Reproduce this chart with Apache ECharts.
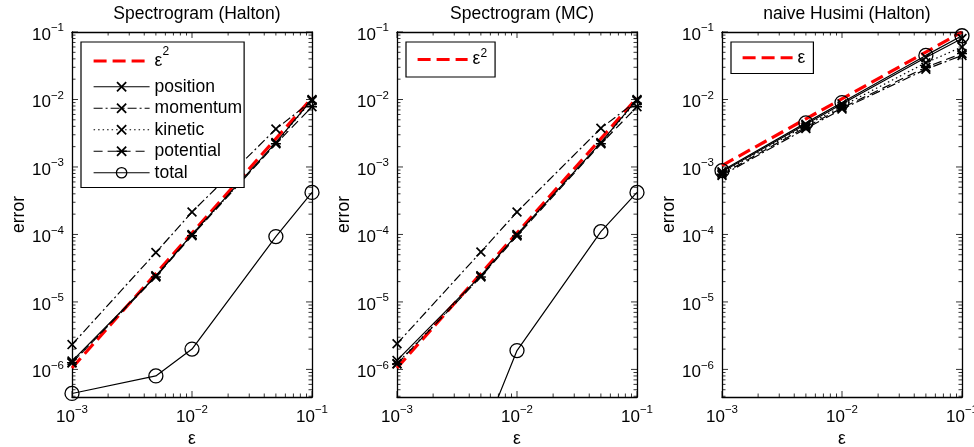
<!DOCTYPE html>
<html><head><meta charset="utf-8">
<script src="https://cdn.jsdelivr.net/npm/echarts@6/dist/echarts.min.js"></script>
<style>html,body{margin:0;padding:0;background:#fff}#c{width:974px;height:447px}</style>
</head><body><div id="c"></div>
<script>
// ---- data ----
const epsilon = [1e-3, 5e-3, 1e-2, 5e-2, 1e-1];
const refEps = [1e-3, 1e-1];
const titles = ['Spectrogram (Halton)', 'Spectrogram (MC)', 'naive Husimi (Halton)'];

// Spectrogram (Halton)
const halton_ref = [1.05e-6, 1.05e-2];
const halton_position = [1.33e-6, 2.4e-5, 1.0e-4, 2.3e-3, 1.0e-2];
const halton_momentum = [2.33e-6, 5.4e-5, 2.15e-4, 3.65e-3, 9.6e-3];
const halton_kinetic = [1.25e-6, 2.45e-5, 9.8e-5, 2.25e-3, 9.8e-3];
const halton_potential = [1.25e-6, 2.35e-5, 9.6e-5, 2.2e-3, 7.8e-3];
const halton_total = [4.4e-7, 8.0e-7, 2.0e-6, 9.3e-5, 4.2e-4];

// Spectrogram (MC)
const mc_ref = [1.05e-6, 1.05e-2];
const mc_position = [1.36e-6, 2.45e-5, 1.0e-4, 2.3e-3, 1.0e-2];
const mc_momentum = [2.4e-6, 5.5e-5, 2.15e-4, 3.75e-3, 9.6e-3];
const mc_kinetic = [1.22e-6, 2.4e-5, 9.8e-5, 2.25e-3, 9.7e-3];
const mc_potential = [1.2e-6, 2.35e-5, 9.5e-5, 2.2e-3, 7.8e-3];
const mc_total = [6e-8, 9e-8, 1.9e-6, 1.1e-4, 4.2e-4];

// naive Husimi (Halton)
const husimi_ref = [1.05e-3, 1.0e-1];
const husimi_position = [8.5e-4, 4.3e-3, 8.6e-3, 4.2e-2, 8.0e-2];
const husimi_momentum = [7.5e-4, 3.7e-3, 7.2e-3, 2.8e-2, 4.5e-2];
const husimi_kinetic = [8.2e-4, 4.1e-3, 8.0e-3, 3.5e-2, 6.0e-2];
const husimi_potential = [7.8e-4, 3.9e-3, 7.5e-3, 3.0e-2, 4.8e-2];
const husimi_total = [8.8e-4, 4.5e-3, 9.0e-3, 4.5e-2, 8.8e-2];

// axis ranges and ticks
const xMin = 1e-3, xMax = 1e-1;
const yMin = 3.9e-7, yMax = 1e-1;
const xMajorTicks = [1e-3, 1e-2, 1e-1];
const yMajorTicks = [1e-6, 1e-5, 1e-4, 1e-3, 1e-2, 1e-1];
const xMinorTicks = [2e-3,3e-3,4e-3,5e-3,6e-3,7e-3,8e-3,9e-3,2e-2,3e-2,4e-2,5e-2,6e-2,7e-2,8e-2,9e-2];
const yMinorTicks = [4e-7,5e-7,6e-7,7e-7,8e-7,9e-7,
  2e-6,3e-6,4e-6,5e-6,6e-6,7e-6,8e-6,9e-6,
  2e-5,3e-5,4e-5,5e-5,6e-5,7e-5,8e-5,9e-5,
  2e-4,3e-4,4e-4,5e-4,6e-4,7e-4,8e-4,9e-4,
  2e-3,3e-3,4e-3,5e-3,6e-3,7e-3,8e-3,9e-3,
  2e-2,3e-2,4e-2,5e-2,6e-2,7e-2,8e-2,9e-2];

const panels = [
  {ref: halton_ref, refName: 'eps2', position: halton_position, momentum: halton_momentum, kinetic: halton_kinetic, potential: halton_potential, total: halton_total},
  {ref: mc_ref, refName: 'eps2', position: mc_position, momentum: mc_momentum, kinetic: mc_kinetic, potential: mc_potential, total: mc_total},
  {ref: husimi_ref, refName: 'eps', position: husimi_position, momentum: husimi_momentum, kinetic: husimi_kinetic, potential: husimi_potential, total: husimi_total}
];

// ---- styling ----
const FONT = '"Liberation Sans", Arial, Helvetica, sans-serif';
const FS = 17.5;
const gridLeft = [72, 397, 722];
const GW = 240, GT = 32, GH = 365;
const TICK_COLOR = '#000';

const X_SYM = 'path://M0,1.2L1.2,0L5,3.8L8.8,0L10,1.2L6.2,5L10,8.8L8.8,10L5,6.2L1.2,10L0,8.8L3.8,5Z';
const AST_SYM = 'path://M0,1.2L1.2,0L5,3.8L8.8,0L10,1.2L6.2,5L10,8.8L8.8,10L5,6.2L1.2,10L0,8.8L3.8,5Z M0,4.25L10,4.25L10,5.75L0,5.75Z';

function expLabel(v) {
  const e = Math.log10(v);
  const r = Math.round(e);
  if (Math.abs(e - r) > 1e-6) return '';
  return '{b|10}{s|' + (r < 0 ? '\u2212' : '') + Math.abs(r) + '}';
}
const labelRich = {
  b: {fontSize: 17, lineHeight: 20, padding: [6, 0, 0, 0], fontFamily: FONT, color: '#000'},
  s: {fontSize: 11.5, lineHeight: 11, verticalAlign: 'top', fontFamily: FONT, color: '#000'}
};

const xAxes = [], yAxes = [], grids = [], series = [], titleArr = [];
for (let g = 0; g < 3; g++) {
  grids.push({left: gridLeft[g], top: GT, width: GW, height: GH, show: false,
    containLabel: false, outerBoundsMode: 'none'});
  titleArr.push({text: titles[g], left: gridLeft[g] + GW / 2, textAlign: 'center', top: 0,
    textStyle: {fontSize: FS, fontWeight: 'normal', fontFamily: FONT, color: '#000'}});
}
const axisLine = {show: true, onZero: false, lineStyle: {color: '#000', width: 1.3}};
const noTick = {show: false};
for (let g = 0; g < 3; g++) {
  xAxes.push({type: 'log', logBase: 10, gridIndex: g, min: xMin, max: xMax, position: 'bottom',
    name: '\u03b5', nameLocation: 'middle', nameGap: 32,
    nameTextStyle: {fontSize: FS, fontFamily: FONT, color: '#000'},
    axisLine, axisTick: noTick, splitLine: {show: false}, minorTick: {show: false},
    axisLabel: {margin: 7, formatter: expLabel, rich: labelRich, color: '#000', showMinLabel: true, showMaxLabel: true}});
  yAxes.push({type: 'log', logBase: 10, gridIndex: g, min: yMin, max: yMax, position: 'left',
    name: 'error', nameLocation: 'middle', nameGap: 44,
    nameTextStyle: {fontSize: FS, fontFamily: FONT, color: '#000'},
    axisLine, axisTick: noTick, splitLine: {show: false}, minorTick: {show: false},
    axisLabel: {margin: 8, formatter: expLabel, rich: labelRich, color: '#000'}});
}
for (let g = 0; g < 3; g++) {
  xAxes.push({type: 'log', logBase: 10, gridIndex: g, min: xMin, max: xMax, position: 'top',
    axisLine, axisTick: noTick, axisLabel: {show: false}, splitLine: {show: false}});
  yAxes.push({type: 'log', logBase: 10, gridIndex: g, min: yMin, max: yMax, position: 'right',
    axisLine, axisTick: noTick, axisLabel: {show: false}, splitLine: {show: false}});
}

function pairs(xs, ys) { return xs.map((x, i) => [x, ys[i]]); }

const lineDefs = [
  {key: 'position', dash: 'solid', sym: X_SYM, size: 10},
  {key: 'momentum', dash: [9, 3, 2, 3], sym: X_SYM, size: 10},
  {key: 'kinetic', dash: [1.5, 3], sym: X_SYM, size: 10},
  {key: 'potential', dash: [9, 5], sym: AST_SYM, size: 10},
  {key: 'total', dash: 'solid', sym: 'circle', size: 14}
];

// tick marks: placed through the axes' scales, drawn inward on all four sides
function tickSeries(g, data, size, offset) {
  return {type: 'scatter', xAxisIndex: g, yAxisIndex: g, clip: false, z: 5,
    animation: false, symbol: 'rect', symbolSize: size, symbolOffset: offset,
    itemStyle: {color: TICK_COLOR}, data: data};
}
function addTicks(g, xs, ys, L) {
  series.push(tickSeries(g, xs.map(v => [v, yMin]), [1, L], [0, -L / 2]));
  series.push(tickSeries(g, xs.map(v => [v, yMax]), [1, L], [0, L / 2]));
  series.push(tickSeries(g, ys.map(v => [xMin, v]), [L, 1], [L / 2, 0]));
  series.push(tickSeries(g, ys.map(v => [xMax, v]), [L, 1], [-L / 2, 0]));
}

for (let g = 0; g < 3; g++) {
  const p = panels[g];
  series.push({name: p.refName, type: 'line', xAxisIndex: g, yAxisIndex: g, z: 1,
    data: pairs(refEps, p.ref), symbol: 'circle', showSymbol: false, symbolSize: 0,
    itemStyle: {color: 'rgba(0,0,0,0)'},
    lineStyle: {color: '#ff0000', width: 3.2, type: [13, 6]}, silent: true, animation: false});
  lineDefs.forEach(d => {
    const isCircle = d.sym === 'circle';
    series.push({name: d.key, type: 'line', xAxisIndex: g, yAxisIndex: g, z: 2,
      data: pairs(epsilon, p[d.key]), symbol: d.sym, symbolSize: d.size, showSymbol: true,
      itemStyle: isCircle ? {color: 'rgba(0,0,0,0)', borderColor: '#000', borderWidth: 1.3}
                          : {color: '#000', borderWidth: 0},
      lineStyle: {color: '#000', width: 1.2, type: d.dash}, silent: true, animation: false});
  });
  addTicks(g, xMajorTicks, yMajorTicks, 6);
  addTicks(g, xMinorTicks, yMinorTicks, 3.5);
}

function legendFmt(name) {
  if (name === 'eps2') return '\u03b5{s|2}';
  if (name === 'eps') return '\u03b5';
  return name;
}
const legendText = {fontSize: FS, fontFamily: FONT, color: '#000', lineHeight: 21.5,
  rich: {s: {fontSize: 12, lineHeight: 12, verticalAlign: 'top', fontFamily: FONT, color: '#000'}}};
const legendCommon = {orient: 'vertical', top: 42, itemHeight: 13, itemGap: 0,
  borderColor: '#000', borderWidth: 1.2, backgroundColor: '#fff', selectedMode: false,
  formatter: legendFmt, textStyle: legendText, lineStyle: {width: 'inherit'}, itemStyle: {borderWidth: 'inherit'}};
const legends = [
  Object.assign({}, legendCommon, {left: 81, itemWidth: 56, padding: [4, 2, 4, 11],
    data: [{name: 'eps2', textStyle: {lineHeight: 30}}, 'position', 'momentum', 'kinetic', 'potential', 'total']}),
  Object.assign({}, legendCommon, {left: 406, itemWidth: 50, padding: [6, 8, 6, 10],
    data: [{name: 'eps2', textStyle: {lineHeight: 23}}]}),
  Object.assign({}, legendCommon, {left: 731, itemWidth: 50, padding: [5, 8, 5, 10], data: ['eps']})
];

const chart = echarts.init(document.getElementById('c'), null, {renderer: 'canvas'});
chart.setOption({
  backgroundColor: '#fff',
  animation: false,
  title: titleArr,
  grid: grids,
  xAxis: xAxes,
  yAxis: yAxes,
  legend: legends,
  series: series
});
</script></body></html>
